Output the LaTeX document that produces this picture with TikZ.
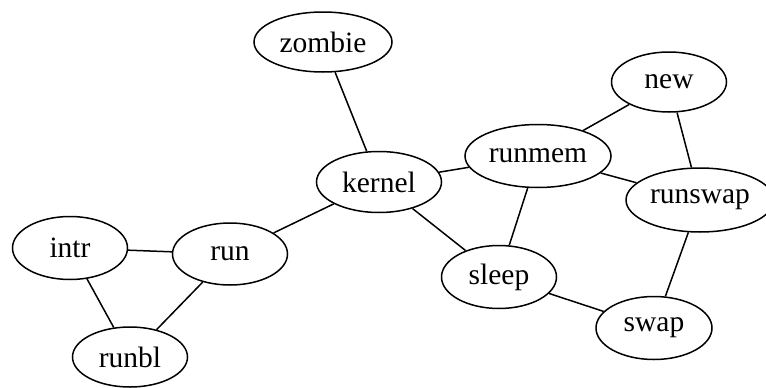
\documentclass[tikz,border=0pt]{standalone}
\usepackage{fontspec}
\setmainfont{Liberation Serif}
\usetikzlibrary{shapes.geometric}
\begin{document}
\begin{tikzpicture}[x=1pt,y=-1pt,
  st/.style={ellipse,draw,line width=1.5pt,inner sep=0pt,minimum height=62pt,minimum width=115pt,font=\fontsize{29.5}{34}\selectfont},
  edge/.style={line width=1.5pt}]
\useasboundingbox (0,0) rectangle (766,388);
\node[st,minimum width=138pt,minimum height=60pt] (zombie) at (323,42) {zombie};
\node[st,minimum width=125pt,minimum height=61pt] (kernel) at (379,182) {kernel};
\node[st,minimum height=60pt] (new) at (669,82) {new};
\node[st,minimum width=146pt,minimum height=63pt] (runmem) at (538,156) {runmem};
\node[st,minimum width=148pt,minimum height=64pt] (runswap) at (700,200) {runswap};
\node[st,minimum height=63pt] (intr) at (70,248) {intr};
\node[st] (run) at (230,254) {run};
\node[st,minimum height=60pt] (runbl) at (130,357) {runbl};
\node[st,minimum height=63pt] (sleep) at (499,277) {sleep};
\node[st,minimum width=116pt,minimum height=63pt] (swap) at (654,328) {swap};
\draw[edge] (zombie) -- (kernel);
\draw[edge] (kernel) -- (run);
\draw[edge] (kernel) -- (runmem);
\draw[edge] (kernel) -- (sleep);
\draw[edge] (runmem) -- (sleep);
\draw[edge] (runmem) -- (new);
\draw[edge] (runmem) -- (runswap);
\draw[edge] (new) -- (runswap);
\draw[edge] (runswap) -- (swap);
\draw[edge] (sleep) -- (swap);
\draw[edge] (run) -- (intr);
\draw[edge] (run) -- (runbl);
\draw[edge] (intr) -- (runbl);
\end{tikzpicture}
\end{document}
